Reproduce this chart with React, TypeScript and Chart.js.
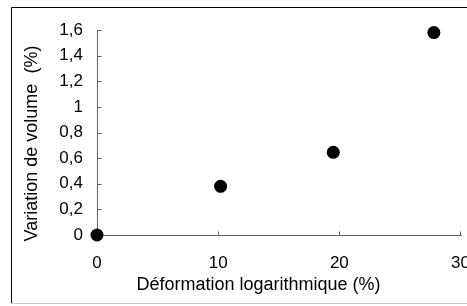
import React, { useEffect, useRef } from 'react';
import { Chart, registerables } from 'chart.js';

Chart.register(...registerables);

const xValues = [0, 10.2, 19.5, 27.8];
const yValues = [0, 0.38, 0.645, 1.58];
const xTicks = [0, 10, 20, 30];
const yTicks = [0, 0.2, 0.4, 0.6, 0.8, 1, 1.2, 1.4, 1.6];
const xTitle = 'Déformation logarithmique (%)';
const yTitle = 'Variation de volume  (%)';

const FONT_FAMILY = '"Liberation Sans", Arial, sans-serif';
const W = 467;
const H = 306;

const fmt = (v: number) => String(Math.round(v * 10) / 10).replace('.', ',');

const decorPlugin = {
  id: 'decor',
  beforeDatasetsDraw(chart: any) {
    const ctx = chart.ctx as CanvasRenderingContext2D;
    const xs = chart.scales.x;
    const ys = chart.scales.y;
    ctx.save();
    // outer frame
    ctx.lineWidth = 1;
    ctx.strokeStyle = '#000000';
    ctx.beginPath();
    ctx.moveTo(11.5, 304);
    ctx.lineTo(11.5, 7.5);
    ctx.lineTo(W, 7.5);
    ctx.stroke();
    ctx.strokeStyle = '#c8c8c8';
    ctx.beginPath();
    ctx.moveTo(11, 303.5);
    ctx.lineTo(W, 303.5);
    ctx.stroke();

    // axes
    const x0 = Math.floor(xs.getPixelForValue(xTicks[0])) + 0.5;
    const y0 = Math.round(ys.getPixelForValue(yTicks[0])) + 0.5;
    const xEnd = xs.getPixelForValue(xTicks[xTicks.length - 1]);
    const yEnd = ys.getPixelForValue(yTicks[yTicks.length - 1]);
    ctx.strokeStyle = '#606060';
    ctx.beginPath();
    ctx.moveTo(x0, Math.round(yEnd));
    ctx.lineTo(x0, y0);
    ctx.lineTo(Math.round(xEnd) + 1, y0);
    for (const v of yTicks) {
      const py = Math.round(ys.getPixelForValue(v)) + 0.5;
      ctx.moveTo(x0, py);
      ctx.lineTo(x0 + 4, py);
    }
    for (const v of xTicks) {
      const px = Math.floor(xs.getPixelForValue(v)) + 0.5;
      ctx.moveTo(px, y0);
      ctx.lineTo(px, y0 - 4);
    }
    ctx.stroke();

    // titles
    ctx.fillStyle = '#000000';
    ctx.font = '18px ' + FONT_FAMILY;
    ctx.textAlign = 'center';
    ctx.textBaseline = 'middle';
    ctx.fillText(xTitle, 258.5, 285);
    ctx.translate(32, 143.5);
    ctx.rotate(-Math.PI / 2);
    ctx.fillText(yTitle, 0, 0);
    ctx.restore();
  },
};

export default function App() {
  const canvasRef = useRef<HTMLCanvasElement | null>(null);

  useEffect(() => {
    const canvas = canvasRef.current;
    if (!canvas) return;
    const chart = new Chart(canvas, {
      type: 'scatter',
      data: {
        datasets: [
          {
            label: 'Variation de volume',
            data: xValues.map((x, i) => ({ x, y: yValues[i] })),
            backgroundColor: '#000000',
            borderColor: '#000000',
            borderWidth: 0,
            pointRadius: 6.5,
            pointHoverRadius: 6.5,
            clip: false as any,
          },
        ],
      },
      options: {
        responsive: false,
        animation: false,
        devicePixelRatio: 1,
        layout: { padding: { top: 30, right: 4, left: 0, bottom: 0 } },
        plugins: {
          legend: { display: false },
          tooltip: { enabled: false },
        },
        scales: {
          x: {
            type: 'linear',
            min: xTicks[0],
            max: xTicks[xTicks.length - 1],
            grid: { display: false, drawTicks: false },
            border: { display: false },
            afterBuildTicks: (s: any) => {
              s.ticks = xTicks.map((v) => ({ value: v }));
            },
            afterFit: (s: any) => {
              s.height = 71;
              s.paddingLeft = 0;
              s.paddingRight = 0;
            },
            ticks: {
              color: '#000000',
              font: { family: FONT_FAMILY, size: 17 },
              padding: 18,
              maxRotation: 0,
              autoSkip: false,
              callback: (v: any) => fmt(Number(v)),
            },
          },
          y: {
            type: 'linear',
            min: yTicks[0],
            max: yTicks[yTicks.length - 1],
            grid: { display: false, drawTicks: false },
            border: { display: false },
            afterBuildTicks: (s: any) => {
              s.ticks = yTicks.map((v) => ({ value: v }));
            },
            afterFit: (s: any) => {
              s.width = 97;
              s.paddingTop = 0;
              s.paddingBottom = 0;
            },
            ticks: {
              color: '#000000',
              font: { family: FONT_FAMILY, size: 17 },
              padding: 14,
              autoSkip: false,
              callback: (v: any) => fmt(Number(v)),
            },
          },
        },
      },
      plugins: [decorPlugin],
    });
    return () => chart.destroy();
  }, []);

  return (
    <div style={{ position: 'absolute', left: 0, top: 0, width: W, height: H, background: '#ffffff' }}>
      <canvas ref={canvasRef} width={W} height={H} style={{ display: 'block', width: W, height: H }} />
    </div>
  );
}
